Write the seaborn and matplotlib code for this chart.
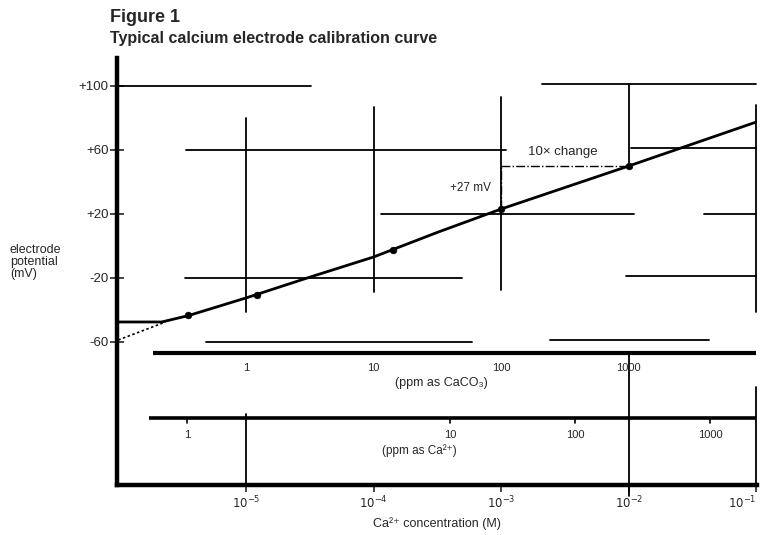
import numpy as np
import pandas as pd
import matplotlib
matplotlib.use("Agg")
import matplotlib.pyplot as plt
import seaborn as sns

# ---- data (log10 of [Ca2+] in M, potential in mV) ----
curve_log_conc = [-6.0, -5.66, -5.45, -5.0, -4.5, -4.0, -3.5, -3.0, -2.0, -1.0]
curve_mv = [-47.5, -47.5, -43.5, -32.5, -19.5, -6.9, 8.5, 23.1, 50.0, 77.5]
extrap_log_conc = [-6.0, -5.63]
extrap_mv = [-58.75, -47.5]
point_log_conc = [-5.45, -4.91, -3.85, -3.0, -2.0]
point_mv = [-43.1, -30.6, -2.5, 23.1, 50.0]

y_ticks = [100, 60, 20, -20, -60]
y_tick_labels = ["+100", "+60", "+20", "-20", "-60"]
x_tick_exp = [-5, -4, -3, -2, -1]
x_tick_labels = [r"$10^{-5}$", r"$10^{-4}$", r"$10^{-3}$", r"$10^{-2}$", r"$10^{-1}$"]

caco3_labels = ["1", "10", "100", "1000"]
caco3_log_conc = [-5.0, -4.0, -3.0, -2.0]
ca_labels = ["1", "10", "100", "1000"]
ca_log_conc = [-5.46, -3.40, -2.42, -1.36]

# horizontal grid fragments: mV level, log start, log end
grid_h_mv = [100, 101, 60, 61, 20, 20, -20, -19, -60, -59]
grid_h_start = [-6.0, -2.68, -5.47, -1.98, -3.94, -1.41, -5.48, -2.02, -5.31, -2.62]
grid_h_end = [-4.49, -1.0, -2.96, -1.0, -1.96, -1.0, -3.31, -1.0, -3.23, -1.37]
# vertical grid fragments: log position, mV low, mV high
grid_v_log = [-5, -4, -3, -2, -1, -5, -2, -1]
grid_v_low = [-41, -29, -27.5, 50, -41, -150, -156, -150]
grid_v_high = [80, 87, 93, 101, 88, -105, -68, -88]

annot_mv = [23.1, 50.0]
annot_log = [-3.0, -2.0]

caco3_scale_mv = -66.9
ca_scale_mv = -107.5

sns.set_theme(style="white")
plt.rcParams['font.family'] = ['Liberation Sans', 'DejaVu Sans']

fig = plt.figure(figsize=(7.65, 5.35), dpi=100)
ax = fig.add_axes([117 / 765, 50 / 535, 640 / 765, 427 / 535])
ax.set_xscale("log")

to_c = lambda v: np.power(10.0, np.asarray(v, dtype=float))

curve = pd.DataFrame({"conc": to_c(curve_log_conc), "mv": curve_mv})
extrap = pd.DataFrame({"conc": to_c(extrap_log_conc), "mv": extrap_mv})
pts = pd.DataFrame({"conc": to_c(point_log_conc), "mv": point_mv})

# grid fragments
for lv, a, b in zip(grid_h_mv, grid_h_start, grid_h_end):
    ax.plot(to_c([a, b]), [lv, lv], color="black", lw=1.3, clip_on=False, zorder=1)
for xv, lo, hi in zip(grid_v_log, grid_v_low, grid_v_high):
    ax.plot(to_c([xv, xv]), [lo, hi], color="black", lw=1.3, clip_on=False, zorder=1)

sns.lineplot(data=curve, x="conc", y="mv", ax=ax, color="black", lw=2.0, zorder=3)
sns.lineplot(data=extrap, x="conc", y="mv", ax=ax, color="black", lw=1.2,
             linestyle=(0, (1.5, 1.5)), zorder=3)
sns.scatterplot(data=pts, x="conc", y="mv", ax=ax, color="black", s=24,
                edgecolor="black", zorder=4)

# slope annotation
ax.plot(to_c([annot_log[0], annot_log[0]]), annot_mv, color="black", lw=1.0,
        linestyle="-.", zorder=2)
ax.plot(to_c(annot_log), [annot_mv[1], annot_mv[1]], color="black", lw=1.0,
        linestyle="-.", zorder=2)
ax.text(10 ** -3.08, 36.5, "+27 mV", ha="right", va="center", fontsize=8.5)
ax.text(10 ** -2.52, 55.0, "10× change", ha="center", va="bottom", fontsize=9.5)

# ppm scales
ax.plot(to_c([-5.73, -1.0]), [caco3_scale_mv] * 2, color="black", lw=3.0,
        clip_on=False, solid_capstyle="butt")
for lc, lab in zip(caco3_log_conc, caco3_labels):
    ax.text(10 ** lc, caco3_scale_mv - 9.5, lab, ha="center", va="center", fontsize=8)
ax.text(10 ** -3.47, -85.6, "(ppm as CaCO₃)", ha="center", va="center", fontsize=9)

ax.plot(to_c([-5.76, -1.0]), [ca_scale_mv] * 2, color="black", lw=2.6,
        clip_on=False, solid_capstyle="butt")
for lc, lab in zip(ca_log_conc, ca_labels):
    ax.plot([10 ** lc] * 2, [ca_scale_mv, ca_scale_mv - 3], color="black", lw=1.2)
    ax.text(10 ** lc, ca_scale_mv - 10.5, lab, ha="center", va="center", fontsize=8)
ax.text(10 ** -3.64, -128, "(ppm as Ca²⁺)", ha="center", va="center", fontsize=8.5)

ax.set_xlim(10 ** -6.01, 10 ** -0.995)
ax.set_ylim(-149.4, 117.5)

ax.set_yticks(y_ticks)
ax.set_yticklabels(y_tick_labels, fontsize=9.5)
ax.set_xticks(to_c(x_tick_exp))
ax.set_xticklabels(x_tick_labels, fontsize=8.5)
ax.get_xticklabels()[-1].set_horizontalalignment("right")
ax.minorticks_off()
ax.tick_params(axis="y", direction="inout", length=10, width=1.2, pad=1, left=True)
ax.tick_params(axis="x", direction="out", length=5, width=1.2, pad=2, bottom=True)

for s in ["top", "right"]:
    ax.spines[s].set_visible(False)
ax.spines["left"].set_linewidth(3.2)
ax.spines["bottom"].set_linewidth(3.2)
ax.spines["left"].set_color("black")
ax.spines["bottom"].set_color("black")

ax.set_xlabel("Ca²⁺ concentration (M)", fontsize=9, labelpad=4)
ax.set_ylabel("")
fig.text(10 / 765, 1 - 262 / 535, "electrode\npotential\n(mV)", ha="left", va="center",
         fontsize=9, linespacing=1.0)

fig.text(110 / 765, 1 - 18 / 535, "Figure 1", ha="left", va="center",
         fontsize=13, fontweight="bold")
fig.text(110 / 765, 1 - 39 / 535, "Typical calcium electrode calibration curve",
         ha="left", va="center", fontsize=11.5, fontweight="bold")

fig.savefig("out.png", dpi=100)
